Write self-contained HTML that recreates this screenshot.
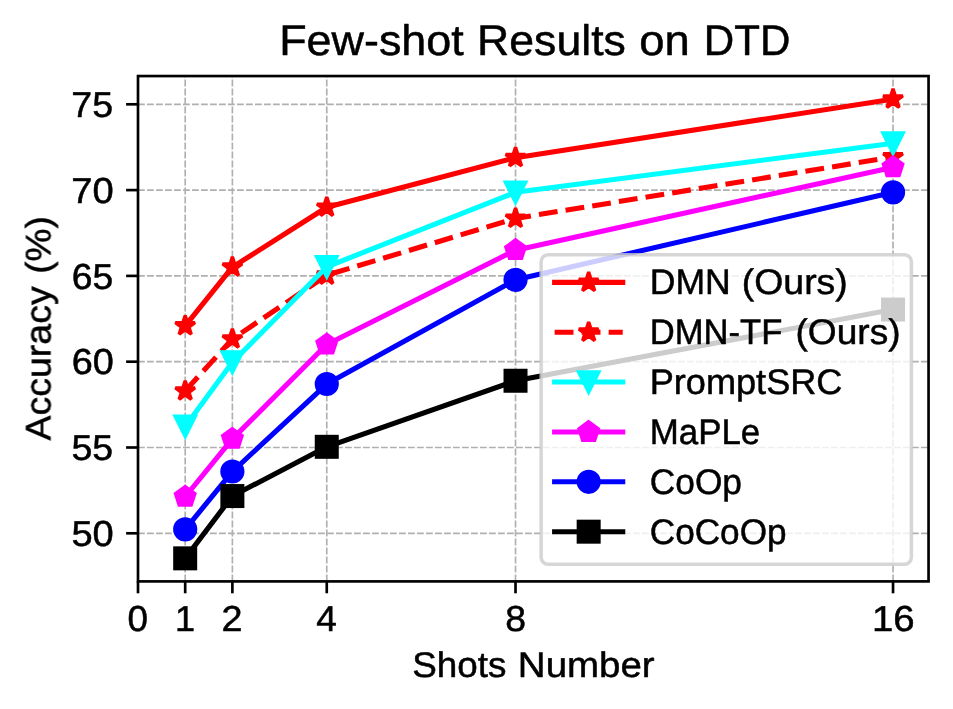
<!DOCTYPE html>
<html lang="en">
<head>
<meta charset="utf-8">
<title>Few-shot Results on DTD</title>
<style>
html,body{margin:0;padding:0;background:#fff;}
body{width:953px;height:709px;overflow:hidden;font-family:"Liberation Sans",sans-serif;}
svg{display:block;will-change:transform;}
</style>
</head>
<body>
<svg width="953" height="709" viewBox="0 0 953 709" font-family="'Liberation Sans', sans-serif" fill="#000">
<defs><polygon id="m-star" points="0,-10.3 -2.31,-3.18 -9.8,-3.18 -3.74,1.22 -6.05,8.33 -0,3.93 6.05,8.33 3.74,1.22 9.8,-3.18 2.31,-3.18" stroke-width="3.4" stroke-linejoin="bevel"/><polygon id="m-pent" points="0,-10.19 -9.69,-3.15 -5.99,8.24 5.99,8.24 9.69,-3.15" stroke-width="3.4" stroke-linejoin="miter"/><polygon id="m-tri" points="0,10.19 -10.19,-10.19 10.19,-10.19" stroke-width="3.4" stroke-linejoin="miter"/><circle id="m-circ" r="10.4" stroke-width="3.4"/><rect id="m-sq" x="-10.3" y="-10.3" width="20.6" height="20.6" stroke-width="3.4" stroke-linejoin="miter"/><clipPath id="axclip"><rect x="138" y="76.05" width="790.55" height="505.35"/></clipPath></defs>
<rect width="953" height="709" fill="#fff"/>
<g stroke="#b0b0b0" stroke-width="1.667" stroke-dasharray="6.8 2.2" fill="none"><path d="M185.19 581.4V76.05"/><path d="M232.38 581.4V76.05"/><path d="M326.76 581.4V76.05"/><path d="M515.52 581.4V76.05"/><path d="M893.04 581.4V76.05"/><path d="M138 533.3H928.55"/><path d="M138 447.5H928.55"/><path d="M138 361.7H928.55"/><path d="M138 275.9H928.55"/><path d="M138 190.1H928.55"/><path d="M138 104.3H928.55"/></g>
<g clip-path="url(#axclip)">
<polyline points="185.19,325.84 232.38,267.15 326.76,207.26 515.52,157.67 893.04,99.15" fill="none" stroke="#ff0000" stroke-width="5.1" stroke-linejoin="round" stroke-linecap="square"/>
<g fill="#ff0000" stroke="#ff0000"><use href="#m-star" x="185.19" y="325.84"/><use href="#m-star" x="232.38" y="267.15"/><use href="#m-star" x="326.76" y="207.26"/><use href="#m-star" x="515.52" y="157.67"/><use href="#m-star" x="893.04" y="99.15"/></g>
<polyline points="185.19,391.04 232.38,339.05 326.76,275.21 515.52,218.41 893.04,156.98" fill="none" stroke="#ff0000" stroke-width="5.1" stroke-linejoin="round" stroke-linecap="butt" stroke-dasharray="18.85 8.15"/>
<g fill="#ff0000" stroke="#ff0000"><use href="#m-star" x="185.19" y="391.04"/><use href="#m-star" x="232.38" y="339.05"/><use href="#m-star" x="326.76" y="275.21"/><use href="#m-star" x="515.52" y="218.41"/><use href="#m-star" x="893.04" y="156.98"/></g>
<polyline points="185.19,426.39 232.38,362.21 326.76,266.81 515.52,192.33 893.04,143.25" fill="none" stroke="#00ffff" stroke-width="5.1" stroke-linejoin="round" stroke-linecap="square"/>
<g fill="#00ffff" stroke="#00ffff"><use href="#m-tri" x="185.19" y="426.39"/><use href="#m-tri" x="232.38" y="362.21"/><use href="#m-tri" x="326.76" y="266.81"/><use href="#m-tri" x="515.52" y="192.33"/><use href="#m-tri" x="893.04" y="143.25"/></g>
<polyline points="185.19,496.75 232.38,438.92 326.76,344.54 515.52,250.16 893.04,167.28" fill="none" stroke="#ff00ff" stroke-width="5.1" stroke-linejoin="round" stroke-linecap="square"/>
<g fill="#ff00ff" stroke="#ff00ff"><use href="#m-pent" x="185.19" y="496.75"/><use href="#m-pent" x="232.38" y="438.92"/><use href="#m-pent" x="326.76" y="344.54"/><use href="#m-pent" x="515.52" y="250.16"/><use href="#m-pent" x="893.04" y="167.28"/></g>
<polyline points="185.19,529.35 232.38,471.52 326.76,384.01 515.52,279.85 893.04,192.33" fill="none" stroke="#0000ff" stroke-width="5.1" stroke-linejoin="round" stroke-linecap="square"/>
<g fill="#0000ff" stroke="#0000ff"><use href="#m-circ" x="185.19" y="529.35"/><use href="#m-circ" x="232.38" y="471.52"/><use href="#m-circ" x="326.76" y="384.01"/><use href="#m-circ" x="515.52" y="279.85"/><use href="#m-circ" x="893.04" y="192.33"/></g>
<polyline points="185.19,558.35 232.38,496.06 326.76,446.81 515.52,380.75 893.04,309.53" fill="none" stroke="#000000" stroke-width="5.1" stroke-linejoin="round" stroke-linecap="square"/>
<g fill="#000000" stroke="#000000"><use href="#m-sq" x="185.19" y="558.35"/><use href="#m-sq" x="232.38" y="496.06"/><use href="#m-sq" x="326.76" y="446.81"/><use href="#m-sq" x="515.52" y="380.75"/><use href="#m-sq" x="893.04" y="309.53"/></g>
</g>
<g stroke="#000" stroke-width="2.667" fill="none"><path d="M138 581.4v11.9"/><path d="M185.19 581.4v11.9"/><path d="M232.38 581.4v11.9"/><path d="M326.76 581.4v11.9"/><path d="M515.52 581.4v11.9"/><path d="M893.04 581.4v11.9"/><path d="M138 533.3h-11.9"/><path d="M138 447.5h-11.9"/><path d="M138 361.7h-11.9"/><path d="M138 275.9h-11.9"/><path d="M138 190.1h-11.9"/><path d="M138 104.3h-11.9"/></g>
<rect x="138" y="76.05" width="790.55" height="505.35" fill="none" stroke="#000" stroke-width="2.667" stroke-linejoin="miter"/>
<rect x="541.15" y="254.8" width="370.25" height="309.4" rx="6.9" ry="6.9" fill="#fff" fill-opacity="0.8" stroke="#ccc" stroke-opacity="0.8" stroke-width="3.5"/>
<path d="M554.63 282.33H622.72" stroke="#ff0000" stroke-width="5.1" stroke-linecap="square" fill="none"/>
<use href="#m-star" x="588.67" y="282.33" fill="#ff0000" stroke="#ff0000"/>
<path d="M554.63 332.2H622.72" stroke="#ff0000" stroke-width="5.1" stroke-dasharray="18.85 8.15" fill="none"/>
<use href="#m-star" x="588.67" y="332.2" fill="#ff0000" stroke="#ff0000"/>
<path d="M554.63 382.07H622.72" stroke="#00ffff" stroke-width="5.1" stroke-linecap="square" fill="none"/>
<use href="#m-tri" x="588.67" y="382.07" fill="#00ffff" stroke="#00ffff"/>
<path d="M554.63 431.94H622.72" stroke="#ff00ff" stroke-width="5.1" stroke-linecap="square" fill="none"/>
<use href="#m-pent" x="588.67" y="431.94" fill="#ff00ff" stroke="#ff00ff"/>
<path d="M554.63 481.81H622.72" stroke="#0000ff" stroke-width="5.1" stroke-linecap="square" fill="none"/>
<use href="#m-circ" x="588.67" y="481.81" fill="#0000ff" stroke="#0000ff"/>
<path d="M554.63 531.68H622.72" stroke="#000000" stroke-width="5.1" stroke-linecap="square" fill="none"/>
<use href="#m-sq" x="588.67" y="531.68" fill="#000000" stroke="#000000"/>
<g style="filter:grayscale(1)" text-rendering="geometricPrecision" stroke="#000" stroke-width="0.5" stroke-linejoin="round">
<text y="55.2" font-size="42.76"><tspan x="279.15" textLength="184.64" lengthAdjust="spacingAndGlyphs">Few-shot</tspan> <tspan x="477.12" textLength="148.73" lengthAdjust="spacingAndGlyphs">Results</tspan> <tspan x="639.22" textLength="50.49" lengthAdjust="spacingAndGlyphs">on</tspan> <tspan x="703.83" textLength="86.53" lengthAdjust="spacingAndGlyphs">DTD</tspan></text>
<text y="677.3" font-size="35.64"><tspan x="412.29" textLength="94.24" lengthAdjust="spacingAndGlyphs">Shots</tspan> <tspan x="517.88" textLength="136.82" lengthAdjust="spacingAndGlyphs">Number</tspan></text>
<text transform="translate(50.5 0) rotate(-90)" font-size="35.64"><tspan x="-440.44" textLength="154.08" lengthAdjust="spacingAndGlyphs">Accuracy</tspan> <tspan x="-273.87" textLength="57.64" lengthAdjust="spacingAndGlyphs">(%)</tspan></text>
<text y="116.9" font-size="36.07"><tspan x="71.38" textLength="41.76" lengthAdjust="spacingAndGlyphs">75</tspan></text>
<text y="202.7" font-size="36.07"><tspan x="71.35" textLength="42.42" lengthAdjust="spacingAndGlyphs">70</tspan></text>
<text y="288.5" font-size="36.07"><tspan x="71.69" textLength="41.44" lengthAdjust="spacingAndGlyphs">65</tspan></text>
<text y="374.3" font-size="36.07"><tspan x="71.66" textLength="42.1" lengthAdjust="spacingAndGlyphs">60</tspan></text>
<text y="460.1" font-size="36.07"><tspan x="71.45" textLength="41.69" lengthAdjust="spacingAndGlyphs">55</tspan></text>
<text y="545.9" font-size="36.07"><tspan x="71.43" textLength="42.34" lengthAdjust="spacingAndGlyphs">50</tspan></text>
<text y="631.06" font-size="36.07"><tspan x="127.58" textLength="20.5" lengthAdjust="spacingAndGlyphs">0</tspan></text>
<text y="631.06" font-size="36.07"><tspan x="174.94" textLength="20.06" lengthAdjust="spacingAndGlyphs">1</tspan></text>
<text y="631.06" font-size="36.07"><tspan x="221.56" textLength="21.02" lengthAdjust="spacingAndGlyphs">2</tspan></text>
<text y="631.06" font-size="36.07"><tspan x="316.32" textLength="20.59" lengthAdjust="spacingAndGlyphs">4</tspan></text>
<text y="631.06" font-size="36.07"><tspan x="505.26" textLength="20.83" lengthAdjust="spacingAndGlyphs">8</tspan></text>
<text y="631.06" font-size="36.07"><tspan x="871.97" textLength="42.7" lengthAdjust="spacingAndGlyphs">16</tspan></text>
<text y="294.26" font-size="35.64"><tspan x="649.72" textLength="80.96" lengthAdjust="spacingAndGlyphs">DMN</tspan> <tspan x="741.81" textLength="106" lengthAdjust="spacingAndGlyphs">(Ours)</tspan></text>
<text y="344.21" font-size="35.64"><tspan x="649.79" textLength="132.63" lengthAdjust="spacingAndGlyphs">DMN-TF</tspan> <tspan x="795.43" textLength="105.16" lengthAdjust="spacingAndGlyphs">(Ours)</tspan></text>
<text y="394.16" font-size="35.64"><tspan x="649.67" textLength="192.81" lengthAdjust="spacingAndGlyphs">PromptSRC</tspan></text>
<text y="444.11" font-size="35.64"><tspan x="649.77" textLength="110.49" lengthAdjust="spacingAndGlyphs">MaPLe</tspan></text>
<text y="494.06" font-size="35.64"><tspan x="649.78" textLength="92.26" lengthAdjust="spacingAndGlyphs">CoOp</tspan></text>
<text y="544.01" font-size="35.64"><tspan x="649.79" textLength="136.79" lengthAdjust="spacingAndGlyphs">CoCoOp</tspan></text>
</g>
</svg>
</body>
</html>
